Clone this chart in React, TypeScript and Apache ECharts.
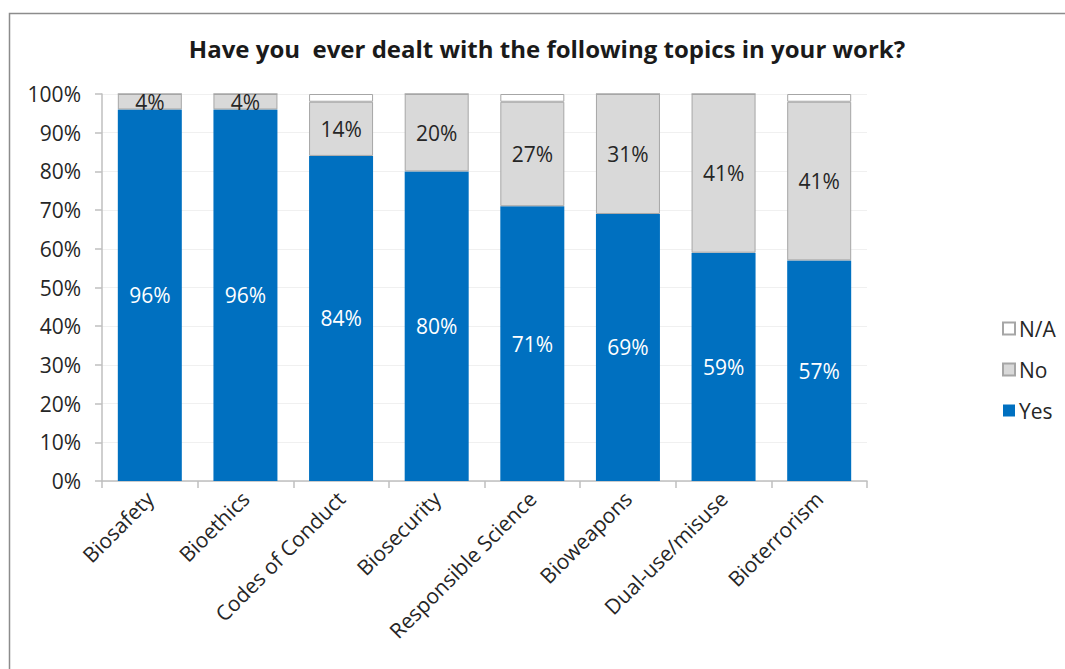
import React, { useEffect, useRef } from "react";
import * as echarts from "echarts";

const categories = ["Biosafety", "Bioethics", "Codes of Conduct", "Biosecurity", "Responsible Science", "Bioweapons", "Dual-use/misuse", "Bioterrorism"];
const yesValues = [96, 96, 84, 80, 71, 69, 59, 57];
const noValues = [4, 4, 14, 20, 27, 31, 41, 41];
const naValues = [0, 0, 2, 0, 2, 0, 0, 2];
const yTicks = [0, 10, 20, 30, 40, 50, 60, 70, 80, 90, 100];
const title = "Have you  ever dealt with the following topics in your work?";

const FONT = "'Open Sans', 'Noto Sans', sans-serif";

export default function App() {
  const ref = useRef<HTMLDivElement>(null);
  useEffect(() => {
    if (!ref.current) return;
    const chart = echarts.init(ref.current, undefined, { renderer: "svg" });
    chart.setOption({
      animation: false,
      backgroundColor: "#ffffff",
      title: {
        text: title,
        left: 542,
        textAlign: "center",
        top: 31,
        textStyle: { fontFamily: FONT, fontSize: 24, fontWeight: "bold", color: "#1a1a1a" },
      },
      graphic: [
        {
          type: "rect",
          shape: { x: 9.5, y: 13.5, width: 1200, height: 800 },
          style: { fill: "none", stroke: "#8c8c8c", lineWidth: 1.5 },
          silent: true,
        },
      ],
      legend: {
        orient: "vertical",
        left: 997,
        top: 313,
        itemGap: 20,
        itemWidth: 12,
        itemHeight: 12,
        icon: "rect",
        data: ["N/A", "No", "Yes"],
        textStyle: { fontFamily: FONT, fontSize: 21, color: "#262626", padding: [0, 0, 0, -1] },
      },
      grid: { left: 102, right: 198, top: 94, bottom: 188 },
      xAxis: {
        type: "category",
        data: categories,
        axisLine: { lineStyle: { color: "#bfbfbf", width: 1.5 } },
        axisTick: { show: true, length: 7, lineStyle: { color: "#bfbfbf", width: 1.5 } },
        axisLabel: {
          rotate: 45,
          interval: 0,
          margin: 14,
          fontFamily: FONT,
          fontSize: 21,
          color: "#262626",
        },
      },
      yAxis: {
        type: "value",
        min: 0,
        max: 100,
        interval: 10,
        axisLine: { show: true, lineStyle: { color: "#bfbfbf", width: 1.5 } },
        axisTick: { show: true, length: 7, lineStyle: { color: "#bfbfbf", width: 1.5 } },
        splitLine: { lineStyle: { color: "#f0f0f0" } },
        axisLabel: {
          fontFamily: FONT,
          fontSize: 21,
          color: "#262626",
          margin: 21,
          formatter: (v: number) => (yTicks.includes(v) ? v + "%" : ""),
        },
      },
      series: [
        {
          name: "Yes",
          type: "bar",
          stack: "all",
          data: yesValues,
          barWidth: 64,
          itemStyle: { color: "#0070C0" },
          label: {
            show: true,
            position: "inside",
            color: "#ffffff",
            fontFamily: FONT,
            fontSize: 21,
            formatter: (p: any) => p.value + "%",
          },
        },
        {
          name: "No",
          type: "bar",
          stack: "all",
          data: noValues,
          barWidth: 64,
          itemStyle: { color: "#D9D9D9", borderColor: "#a6a6a6", borderWidth: 1 },
          label: {
            show: true,
            position: "inside",
            color: "#262626",
            fontFamily: FONT,
            fontSize: 21,
            formatter: (p: any) => p.value + "%",
          },
        },
        {
          name: "N/A",
          type: "bar",
          stack: "all",
          data: naValues,
          barWidth: 64,
          itemStyle: { color: "#ffffff", borderColor: "#a6a6a6", borderWidth: 1 },
        },
      ],
    });
    return () => chart.dispose();
  }, []);
  return (
    <div
      ref={ref}
      style={{ position: "absolute", left: 0, top: 0, width: 1065, height: 669 }}
    />
  );
}
